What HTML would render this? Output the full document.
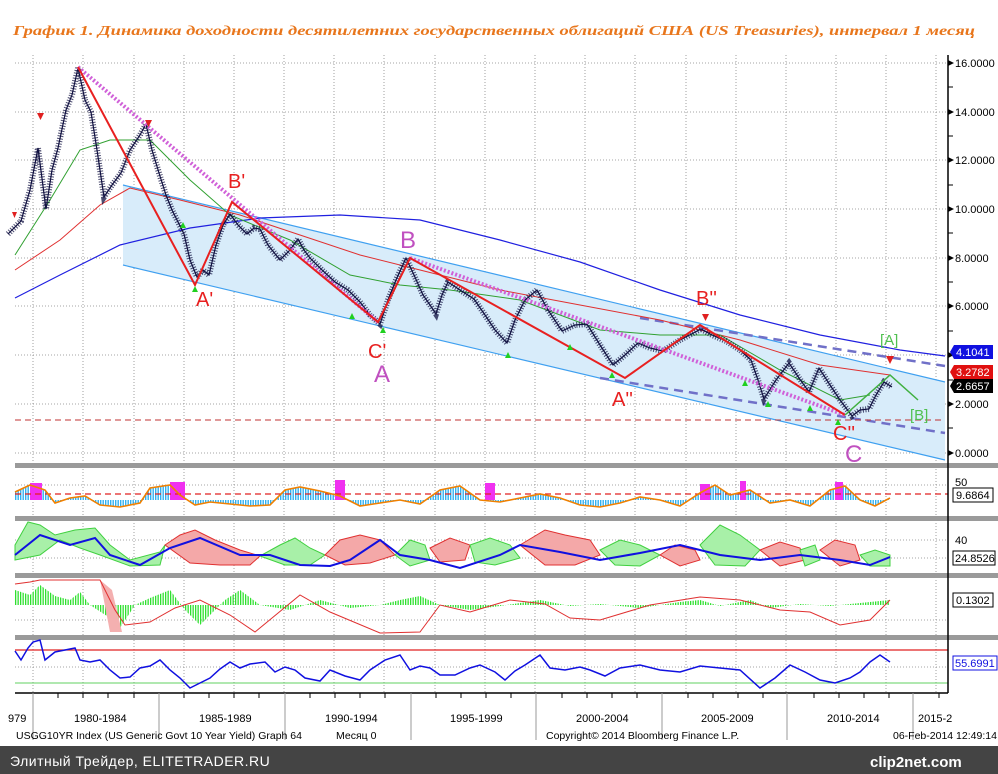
<!DOCTYPE html>
<html><head><meta charset="utf-8"><style>
html,body{margin:0;padding:0;background:#fff;}
svg{display:block;font-family:"Liberation Sans",sans-serif;}
</style></head><body>
<svg width="998" height="774" viewBox="0 0 998 774" xmlns="http://www.w3.org/2000/svg">
<defs>
<pattern id="cy" width="2.5" height="10" patternUnits="userSpaceOnUse"><rect width="1.4" height="10" fill="#30b0f0"/></pattern>
<pattern id="gr" width="2.5" height="10" patternUnits="userSpaceOnUse"><rect width="1.3" height="10" fill="#30e030"/></pattern>
</defs>
<rect width="998" height="774" fill="#fff"/>
<text x="13" y="35" font-family="Liberation Serif, serif" font-style="italic" font-weight="bold" font-size="14" fill="#e8761c" textLength="962" lengthAdjust="spacingAndGlyphs">График 1. Динамика доходности десятилетних государственных облигаций США (US Treasuries), интервал 1 месяц</text>
<!-- grid -->
<g stroke="#888" stroke-width="0.8" stroke-dasharray="1,2">
<path d="M33,55V693M83,55V693M134,55V693M184,55V693M234,55V693M284,55V693M334,55V693M384,55V693M435,55V693M485,55V693M535,55V693M585,55V693M635,55V693M686,55V693M736,55V693M786,55V693M836,55V693M886,55V693M936,55V693"/>
<path d="M15,453H948M15,404H948M15,355H948M15,306H948M15,258H948M15,209H948M15,160H948M15,112H948M15,63H948"/>
<path d="M15,485H948M15,540H948M15,558H948M15,620H948M15,667H948"/>
</g>
<!-- channel -->
<polygon points="123,185 945,382 945,460 123,265" fill="#d8ecfa"/>
<line x1="123" y1="185" x2="945" y2="382" stroke="#3fa0f0" stroke-width="1.2"/>
<line x1="123" y1="265" x2="945" y2="460" stroke="#3fa0f0" stroke-width="1.2"/>
<line x1="640" y1="318" x2="945" y2="366" stroke="#7070c8" stroke-width="2.5" stroke-dasharray="9,6"/>
<line x1="600" y1="378" x2="945" y2="433" stroke="#7070c8" stroke-width="2.5" stroke-dasharray="9,6"/>
<line x1="15" y1="420" x2="945" y2="420" stroke="#c03030" stroke-width="1" stroke-dasharray="6,4"/>
<!-- MAs -->
<polyline fill="none" stroke="#2020e0" stroke-width="1.2" points="15,298 60,275 120,245 190,228 260,218 340,215 420,220 500,240 580,262 660,290 740,315 820,335 900,350 945,356"/>
<polyline fill="none" stroke="#e03030" stroke-width="1" points="15,270 60,240 100,205 130,188 180,200 240,215 300,235 360,255 420,270 500,290 580,305 660,320 740,340 820,365 890,375"/>
<polyline fill="none" stroke="#30a030" stroke-width="1" points="15,255 50,200 80,150 110,140 150,140 190,180 230,215 290,240 350,275 400,285 450,290 520,300 600,330 660,335 720,335 780,370 840,400 870,395"/>
<!-- price -->
<polyline fill="none" stroke="#101040" stroke-width="6" stroke-dasharray="1,1.6" opacity="0.75" points="8,234 21,221 30,190 38,148 46,209 52,170 58,148 66,110 72,95 78,68 85,100 91,112 97,150 104,197 112,185 121,173 130,150 140,135 146,124 152,150 159,173 166,195 172,210 184,234 190,260 197,277 203,270 209,275 216,245 223,225 230,214 238,225 247,234 254,228 260,229 268,245 280,260 290,250 298,239 304,250 310,258 322,270 335,282 348,290 360,302 370,315 380,324 388,300 396,280 406,258 414,275 423,295 430,305 436,314 442,295 448,282 460,290 474,299 485,315 495,330 507,343 515,320 525,300 537,290 548,310 562,331 575,325 587,324 600,345 613,365 625,355 638,343 650,348 663,351 680,340 701,329 712,335 726,341 740,350 751,360 758,380 764,399 776,380 789,363 799,378 809,392 814,380 819,368 830,385 840,400 852,416 860,410 869,409 876,395 884,382 892,387"/>
<polyline fill="none" stroke="#101040" stroke-width="1.2" points="8,234 21,221 30,190 38,148 46,209 52,170 58,148 66,110 72,95 78,68 85,100 91,112 97,150 104,197 112,185 121,173 130,150 140,135 146,124 152,150 159,173 166,195 172,210 184,234 190,260 197,277 203,270 209,275 216,245 223,225 230,214 238,225 247,234 254,228 260,229 268,245 280,260 290,250 298,239 304,250 310,258 322,270 335,282 348,290 360,302 370,315 380,324 388,300 396,280 406,258 414,275 423,295 430,305 436,314 442,295 448,282 460,290 474,299 485,315 495,330 507,343 515,320 525,300 537,290 548,310 562,331 575,325 587,324 600,345 613,365 625,355 638,343 650,348 663,351 680,340 701,329 712,335 726,341 740,350 751,360 758,380 764,399 776,380 789,363 799,378 809,392 814,380 819,368 830,385 840,400 852,416 860,410 869,409 876,395 884,382 892,387"/>
<polyline points="78,67 378,322" fill="none" stroke="#d060d8" stroke-width="4" stroke-dasharray="2,2"/>
<polyline points="410,258 845,415" fill="none" stroke="#d060d8" stroke-width="4" stroke-dasharray="2,2"/>
<polyline points="78,67 195,285 232,202 378,322 410,258 625,378 700,325 845,415" fill="none" stroke="#e82020" stroke-width="2"/>
<polyline points="845,415 890,375 918,400" fill="none" stroke="#40b040" stroke-width="1.5"/>
<!-- markers -->
<g fill="#20d020">
<path d="M192,292l3,-6l3,6z M349,319l3,-6l3,6z M380,333l3,-6l3,6z M505,358l3,-6l3,6z M567,350l3,-6l3,6z M609,378l3,-6l3,6z M742,386l3,-6l3,6z M765,407l3,-6l3,6z M807,411l3,-6l3,6z M835,425l3,-6l3,6z M180,228l3,-6l3,6z"/>
</g>
<g fill="#e02020"><path d="M37,113h7l-3.5,7z M145,120h7l-3.5,7z M702,314h7l-3.5,7z M886,356h8l-4,8z M12,212h5l-2.5,6z"/></g>
<g font-family="Liberation Sans, sans-serif" font-size="20">
<text x="196" y="306" fill="#e82020">A'</text>
<text x="228" y="188" fill="#e82020">B'</text>
<text x="368" y="358" fill="#e82020">C'</text>
<text x="374" y="382" fill="#c050c0" font-size="24">A</text>
<text x="400" y="248" fill="#c050c0" font-size="24">B</text>
<text x="612" y="406" fill="#e82020">A''</text>
<text x="696" y="305" fill="#e82020">B''</text>
<text x="833" y="440" fill="#e82020">C''</text>
<text x="845" y="462" fill="#c050c0" font-size="24">C</text>
<text x="880" y="345" fill="#50c050" font-size="15">[A]</text>
<text x="910" y="420" fill="#50c050" font-size="15">[B]</text>
</g>
<!-- separators -->
<rect x="15" y="463" width="983" height="5" fill="#9a9a9a"/>
<rect x="15" y="516" width="983" height="5" fill="#9a9a9a"/>
<rect x="15" y="573" width="983" height="5" fill="#9a9a9a"/>
<rect x="15" y="635" width="983" height="5" fill="#9a9a9a"/>
<!-- panel 1 -->
<polygon fill="url(#cy)" points="15,500 15,492 30,485 45,490 55,503 70,498 85,496 100,505 120,507 140,503 150,488 170,485 180,495 195,505 210,502 230,504 250,506 270,505 285,490 300,487 320,491 340,496 360,506 380,503 400,500 420,504 440,490 460,486 480,500 500,502 520,498 540,494 560,498 580,505 600,507 620,503 640,497 660,500 680,506 700,493 715,485 730,495 750,490 770,503 790,500 810,506 830,490 845,486 860,500 875,506 890,498 890,500"/>
<g fill="#f030f0"><rect x="30" y="483" width="12" height="17"/><rect x="170" y="482" width="15" height="18"/><rect x="335" y="480" width="10" height="20"/><rect x="485" y="483" width="10" height="17"/><rect x="700" y="484" width="10" height="16"/><rect x="740" y="481" width="6" height="19"/><rect x="835" y="482" width="8" height="18"/></g>
<line x1="15" y1="494" x2="948" y2="494" stroke="#e02020" stroke-dasharray="6,4" stroke-width="1.2"/>
<polyline fill="none" stroke="#f08000" stroke-width="1.6" points="15,492 30,485 45,490 55,503 70,498 85,496 100,505 120,507 140,503 150,488 170,485 180,495 195,505 210,502 230,504 250,506 270,505 285,490 300,487 320,491 340,496 360,506 380,503 400,500 420,504 440,490 460,486 480,500 500,502 520,498 540,494 560,498 580,505 600,507 620,503 640,497 660,500 680,506 700,493 715,485 730,495 750,490 770,503 790,500 810,506 830,490 845,486 860,500 875,506 890,498"/>
<!-- panel 2 -->
<g stroke-width="1">
<polygon fill="#a8f0a8" stroke="#40d040" points="15,545 28,522 40,525 55,535 75,530 95,528 110,545 130,560 160,552 165,545 160,565 130,566 100,555 80,548 60,540 40,555 15,560"/>
<polygon fill="#f4a8a8" stroke="#e03030" points="165,545 180,535 195,530 215,540 240,550 260,556 250,565 220,565 190,563"/>
<polygon fill="#a8f0a8" stroke="#40d040" points="260,556 280,545 295,538 310,548 325,555 310,565 285,565"/>
<polygon fill="#f4a8a8" stroke="#e03030" points="325,555 340,540 360,535 380,540 395,555 370,563 345,565"/>
<polygon fill="#a8f0a8" stroke="#40d040" points="395,555 410,540 425,545 430,560 410,566"/>
<polygon fill="#f4a8a8" stroke="#e03030" points="430,548 450,538 470,545 465,560 440,562"/>
<polygon fill="#a8f0a8" stroke="#40d040" points="470,545 490,538 510,545 520,558 495,565 475,562"/>
<polygon fill="#f4a8a8" stroke="#e03030" points="520,545 545,530 565,535 590,540 600,555 575,565 545,565"/>
<polygon fill="#a8f0a8" stroke="#40d040" points="600,550 620,540 640,545 660,555 640,566 615,565"/>
<polygon fill="#f4a8a8" stroke="#e03030" points="660,555 675,545 695,550 700,560 680,566"/>
<polygon fill="#a8f0a8" stroke="#40d040" points="700,545 720,525 740,535 760,550 745,566 715,565"/>
<polygon fill="#f4a8a8" stroke="#e03030" points="760,550 780,542 800,548 805,560 780,566"/>
<polygon fill="#a8f0a8" stroke="#40d040" points="800,550 815,545 820,560 805,566"/>
<polygon fill="#f4a8a8" stroke="#e03030" points="820,550 835,540 855,545 860,560 840,566"/>
<polygon fill="#a8f0a8" stroke="#40d040" points="860,555 875,550 890,555 890,566 870,566"/>
</g>
<polyline fill="none" stroke="#1010e0" stroke-width="2" points="15,555 40,535 70,545 95,538 110,555 140,565 170,548 200,538 240,555 270,555 300,565 330,566 350,560 380,540 400,555 430,560 460,568 500,555 520,545 560,552 600,560 640,553 680,545 720,555 760,560 800,555 840,560 870,565 890,557"/>
<!-- panel 3 -->
<polygon fill="url(#gr)" points="15,605 15,590 30,595 40,585 55,596 70,600 80,592 90,605 110,618 120,628 135,605 150,598 170,590 185,610 200,625 225,600 240,590 260,605 290,610 320,600 350,608 380,605 400,600 420,596 440,605 470,610 500,606 540,600 570,606 600,604 640,608 680,602 700,600 720,606 750,600 770,608 800,604 830,606 860,603 890,600 890,605"/>
<polygon fill="#f4b0b0" points="100,580 112,590 122,632 110,632"/>
<polyline fill="none" stroke="#e03030" stroke-width="1" points="15,584 30,582 40,580 100,580 115,610 125,625 150,622 175,608 200,600 230,615 255,632 300,595 330,612 380,633 420,632 440,605 470,612 510,600 545,604 570,618 600,620 650,605 700,597 740,600 780,610 810,612 840,625 870,620 890,600"/>
<!-- panel 4 -->
<line x1="15" y1="650" x2="948" y2="650" stroke="#e02020" stroke-width="1.2"/>
<line x1="15" y1="683" x2="948" y2="683" stroke="#60d060" stroke-width="1"/>
<polyline fill="none" stroke="#1010e0" stroke-width="1.5" points="15,651 21,660 28,648 33,642 40,640 45,660 55,652 65,650 75,648 80,660 90,662 100,660 110,670 120,678 130,677 140,668 150,666 160,660 170,670 180,678 190,688 200,683 210,678 220,669 230,662 240,668 250,664 265,662 275,672 285,667 295,670 305,678 320,681 330,670 345,676 360,680 370,670 385,660 400,655 410,670 420,666 430,668 440,675 455,675 470,668 480,665 495,672 505,680 515,671 525,665 540,655 550,668 565,670 580,667 590,670 605,676 620,668 640,665 660,670 680,672 700,666 720,668 740,670 760,688 775,678 790,665 805,672 820,680 835,683 850,678 860,672 870,662 880,655 890,662"/>
<!-- axes -->
<line x1="948" y1="55" x2="948" y2="693" stroke="#000" stroke-width="1.5"/>
<line x1="15" y1="693" x2="948" y2="693" stroke="#000" stroke-width="1.5"/>
<g font-size="11" fill="#000">
<path d="M948,60l6,3l-6,3zM948,109l6,3l-6,3zM948,157l6,3l-6,3zM948,206l6,3l-6,3zM948,255l6,3l-6,3zM948,303l6,3l-6,3zM948,352l6,3l-6,3zM948,401l6,3l-6,3zM948,450l6,3l-6,3z"/>
<path d="M948,87h5M948,136h5M948,185h5M948,233h5M948,282h5M948,331h5M948,380h5M948,428h5" stroke="#000"/>
<text x="955" y="67">16.0000</text><text x="955" y="116">14.0000</text><text x="955" y="164">12.0000</text><text x="955" y="213">10.0000</text><text x="955" y="262">8.0000</text><text x="955" y="310">6.0000</text><text x="955" y="408">2.0000</text><text x="955" y="457">0.0000</text>
<path stroke="#000" d="M58,693v5M83,693v5M108,693v5M134,693v5M184,693v5M209,693v5M234,693v5M259,693v5M310,693v5M335,693v5M360,693v5M385,693v5M436,693v5M461,693v5M486,693v5M511,693v5M562,693v5M587,693v5M612,693v5M637,693v5M688,693v5M713,693v5M738,693v5M763,693v5M814,693v5M839,693v5M864,693v5M889,693v5M939,693v5"/>
<path stroke="#999" d="M33,693v47M159,693v47M285,693v47M411,693v47M536,693v47M662,693v47M787,693v47M913,693v47"/>
<text x="8" y="722">979</text>
<text x="74" y="722">1980-1984</text>
<text x="199" y="722">1985-1989</text>
<text x="325" y="722">1990-1994</text>
<text x="450" y="722">1995-1999</text>
<text x="576" y="722">2000-2004</text>
<text x="701" y="722">2005-2009</text>
<text x="827" y="722">2010-2014</text>
<text x="918" y="722">2015-2</text>
<text x="16" y="739" font-size="10.5">USGG10YR Index (US Generic Govt 10 Year Yield) Graph 64</text>
<text x="336" y="739" font-size="10.5">Месяц 0</text>
<text x="546" y="739" font-size="10.5">Copyright© 2014 Bloomberg Finance L.P.</text>
<text x="893" y="739" font-size="10.5">06-Feb-2014 12:49:14</text>
</g>
<rect x="0" y="746" width="998" height="28" fill="#444"/>
<text x="10" y="766" font-size="14" fill="#fff" letter-spacing="0.5">Элитный Трейдер, ELITETRADER.RU</text>
<text x="870" y="767" font-size="15" fill="#fff" font-weight="bold">clip2net.com</text>
<g font-size="11">
<polygon points="950,352 954,345 993,345 993,359 954,359" fill="#1010e0"/><text x="956" y="356" fill="#fff">4.1041</text>
<polygon points="950,372 954,365 993,365 993,379 954,379" fill="#e01010"/><text x="956" y="376" fill="#fff">3.2782</text>
<polygon points="950,386 954,379 993,379 993,393 954,393" fill="#000"/><text x="956" y="390" fill="#fff">2.6657</text>
<rect x="953" y="488" width="40" height="14" fill="#fff" stroke="#000"/><text x="956" y="499">9.6864</text>
<rect x="953" y="551" width="42" height="14" fill="#fff" stroke="#000"/><text x="955" y="562">24.8526</text>
<rect x="953" y="593" width="40" height="14" fill="#fff" stroke="#000"/><text x="956" y="604">0.1302</text>
<rect x="953" y="656" width="44" height="14" fill="#fff" stroke="#1010e0"/><text x="955" y="667" fill="#1010e0">55.6991</text>
<text x="955" y="486">50</text><text x="955" y="544">40</text>
</g>
</svg>
</body></html>
